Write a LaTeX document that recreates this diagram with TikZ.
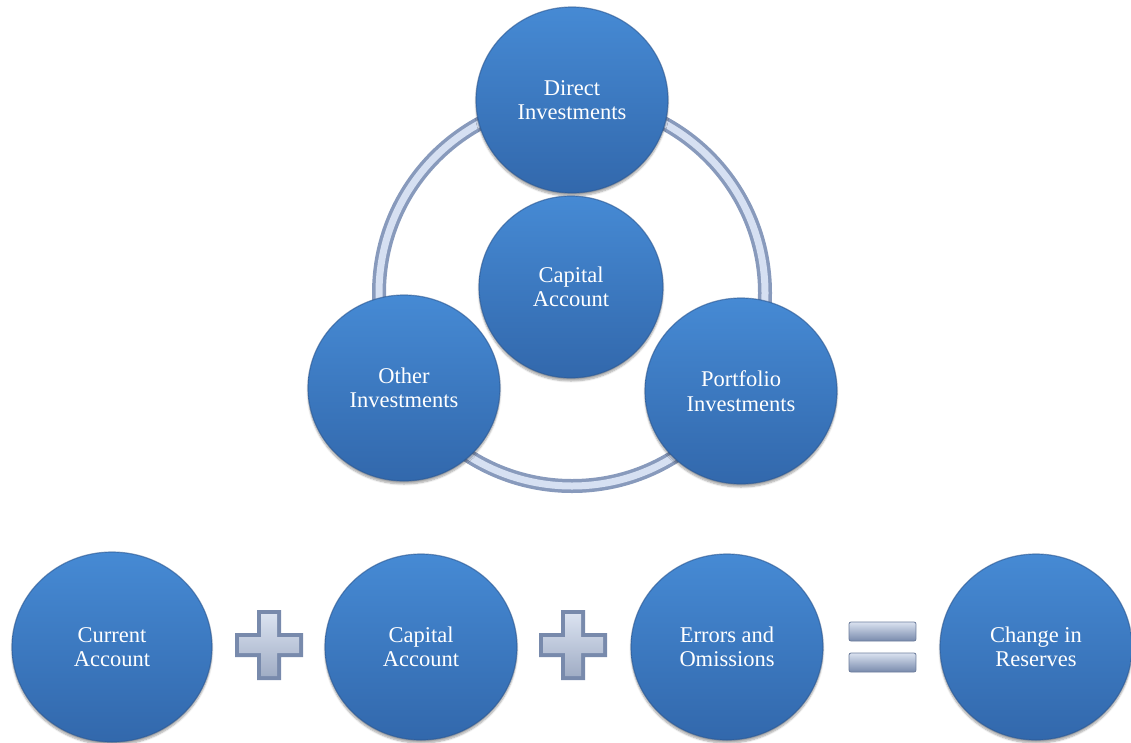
\documentclass[tikz,border=0pt]{standalone}
\usepackage{fontspec}
\setmainfont{Liberation Serif}
\usetikzlibrary{shapes.geometric,shadows.blur}
\definecolor{ballTop}{RGB}{70,138,212}
\definecolor{ballBot}{RGB}{50,104,172}
\definecolor{ballEdge}{RGB}{44,88,146}
\definecolor{ringLight}{RGB}{214,224,242}
\definecolor{ringDark}{RGB}{136,154,188}
\definecolor{signLight}{RGB}{218,226,240}
\definecolor{signDark}{RGB}{120,138,172}
\begin{document}
\begin{tikzpicture}[x=1pt,y=-1pt,
  ball/.style={ellipse, minimum width=192pt, minimum height=186pt, inner sep=0pt,
    top color=ballTop, bottom color=ballBot, draw=ballEdge, draw opacity=0.6, line width=1.2pt,
    text=white, align=center, font=\fontsize{22.5}{24.5}\selectfont,
    blur shadow={shadow xshift=0pt, shadow yshift=-3pt, shadow blur steps=6, shadow opacity=35}},
  plussign/.pic={
    \fill[signDark] (-12,-35) -- (12,-35) -- (12,-12) -- (34,-12) -- (34,12) -- (12,12)
      -- (12,35) -- (-12,35) -- (-12,12) -- (-34,12) -- (-34,-12) -- (-12,-12) -- cycle;
    \shade[top color=signLight, bottom color=signDark!70!white]
      (-8,-31) -- (8,-31) -- (8,-8) -- (30,-8) -- (30,8) -- (8,8)
      -- (8,31) -- (-8,31) -- (-8,8) -- (-30,8) -- (-30,-8) -- (-8,-8) -- cycle;
  },
  eqbar/.style={rounded corners=2pt, top color=signLight, bottom color=signDark, draw=signDark!90!black, line width=0.8pt}
]
\useasboundingbox (0,0) rectangle (1131,742);

% ring
\coordinate (ringc) at (572,293);
\draw[ringDark, line width=14pt] (ringc) circle[radius=193];
\draw[ringLight, line width=7pt] (ringc) circle[radius=193];

% top cluster
\node[ball] (di) at (572,100) {Direct\\Investments};
\node[ball, minimum width=184pt, minimum height=182pt] (ca) at (571,287) {Capital\\Account};
\node[ball] (oi) at (404,388) {Other\\Investments};
\node[ball] (pi) at (741,391) {Portfolio\\Investments};

% bottom equation
\node[ball, minimum width=200pt, minimum height=190pt] (cur) at (112,647) {Current\\Account};
\node[ball] (cap2) at (421,647) {Capital\\Account};
\node[ball] (eo) at (727,647) {Errors and\\Omissions};
\node[ball] (cr) at (1036,647) {Change in\\Reserves};

\pic (p1) at (269,645) {plussign};
\pic (p2) at (573,645) {plussign};

\shade[eqbar] (849,622) rectangle (916,641);
\shade[eqbar] (849,653) rectangle (916,672);
\end{tikzpicture}
\end{document}
